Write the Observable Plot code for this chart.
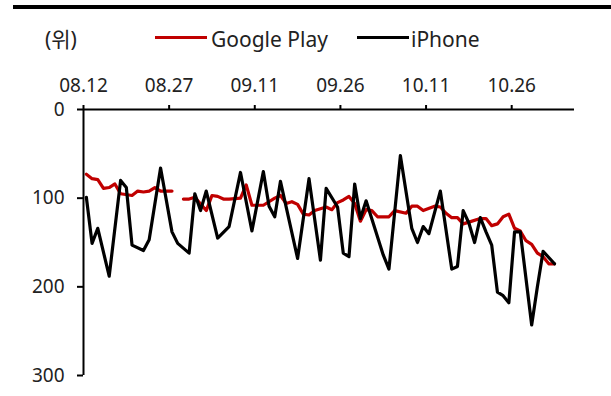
<!DOCTYPE html>
<html><head><meta charset="utf-8">
<script src="https://cdn.jsdelivr.net/npm/d3@7"></script>
<script src="https://cdn.jsdelivr.net/npm/@observablehq/plot@0.6"></script>
<style>
html,body{margin:0;padding:0;background:#fff;}
#wrap{position:relative;width:611px;height:396px;overflow:hidden;font-family:"Noto Sans","Noto Sans CJK KR",sans-serif;color:#222;}
#topline{position:absolute;left:13px;top:5px;width:598px;height:4px;background:#000;}
.lg{position:absolute;font-size:21px;line-height:21px;white-space:nowrap;top:29px;}
.sw{position:absolute;height:3px;top:36px;width:52px;}
#chart{position:absolute;left:0;top:60px;}
</style></head><body>
<div id="wrap">
  <div id="topline"></div>
  <div class="lg" style="left:45px;">(위)</div>
  <div class="sw" style="left:155px;background:#c00000;"></div>
  <div class="lg" style="left:211px;">Google Play</div>
  <div class="sw" style="left:357px;background:#000;"></div>
  <div class="lg" style="left:411px;">iPhone</div>
  <div id="chart"></div>
</div>
<script>
const xTickLabels = ["08.12","08.27","09.11","09.26","10.11","10.26"];
const yTicks = [0, 100, 200, 300];

const gplayDates = ["08.12","08.13","08.14","08.15","08.16","08.17","08.18","08.20","08.21","08.22","08.23","08.24","08.25","08.27","08.28","08.29","08.30","08.31","09.02","09.03","09.04","09.05","09.06","09.08","09.09","09.10","09.12","09.14","09.15","09.16","09.17","09.18","09.19","09.20","09.21","09.23","09.24","09.25","09.26","09.27","09.28","09.29","09.30","10.01","10.02","10.04","10.05","10.07","10.08","10.09","10.10","10.12","10.13","10.14","10.15","10.16","10.17","10.18","10.20","10.21","10.22","10.23","10.24","10.25","10.26","10.27","10.28","10.29","10.30","10.31","11.01","11.02"];
const gplayRanks = [73,78,79,89,88,84,95,97,92,93,92,88,92,92,null,101,101,99,114,97,98,101,101,100,85,108,108,100,97,106,104,107,118,119,114,110,113,105,102,98,106,126,113,114,121,121,114,117,109,109,114,109,110,117,122,122,129,127,123,123,131,129,121,118,134,137,148,152,162,166,174,174];

const iphoneDates = ["08.12","08.13","08.14","08.16","08.18","08.19","08.20","08.22","08.23","08.25","08.27","08.28","08.30","08.31","09.01","09.02","09.04","09.06","09.08","09.10","09.12","09.13","09.14","09.15","09.18","09.20","09.22","09.23","09.25","09.26","09.27","09.28","09.29","09.30","10.03","10.04","10.06","10.08","10.09","10.10","10.11","10.13","10.15","10.16","10.17","10.18","10.19","10.20","10.21","10.22","10.23","10.24","10.25","10.26","10.27","10.29","10.30","10.31","11.02"];
const iphoneRanks = [99,151,134,188,80,88,153,159,147,66,138,151,162,95,114,92,145,132,71,137,70,109,121,81,168,78,170,89,110,162,166,84,123,103,164,180,52,134,150,132,140,92,180,177,114,128,150,122,138,153,206,210,218,138,138,243,200,160,174];

const dayStart = s => new Date(Date.UTC(2023, +s.slice(0,2) - 1, +s.slice(3)));
const dayMid = s => new Date(+dayStart(s) + 12 * 3600e3);
const xDomain = [dayStart("08.12"), dayStart("11.06")];

const gplay = gplayDates.map((d, i) => ({date: dayMid(d), rank: gplayRanks[i]}));
const iphone = iphoneDates.map((d, i) => ({date: dayMid(d), rank: iphoneRanks[i]}));

const chart = Plot.plot({
  width: 611,
  height: 336,
  marginTop: 49,
  marginLeft: 83,
  marginRight: 37,
  marginBottom: 21,
  style: {fontFamily: '"Noto Sans","Noto Sans CJK KR",sans-serif', fontSize: "19px", color: "#222", background: "transparent", overflow: "visible"},
  x: {type: "utc", domain: xDomain},
  y: {domain: [0, 300], reverse: true},
  marks: [
    Plot.line(gplay, {x: "date", y: "rank", stroke: "#c00000", strokeWidth: 3.2}),
    Plot.line(iphone, {x: "date", y: "rank", stroke: "#000", strokeWidth: 3.2}),
    Plot.ruleY([0], {stroke: "#000", strokeWidth: 2}),
    Plot.ruleX([xDomain[0]], {stroke: "#000", strokeWidth: 2}),
    Plot.axisX({anchor: "top", ticks: xTickLabels.map(dayStart), tickFormat: d3.utcFormat("%m.%d"), tickSize: 5, tickPadding: 13, fontSize: 19, stroke: "#000", strokeWidth: 2, fill: "#222", label: null}),
    Plot.axisY({anchor: "left", ticks: yTicks, tickSize: 6, tickPadding: 13, fontSize: 19, stroke: "#000", strokeWidth: 2, fill: "#222", label: null})
  ]
});
document.getElementById("chart").appendChild(chart);
</script>
</body></html>
